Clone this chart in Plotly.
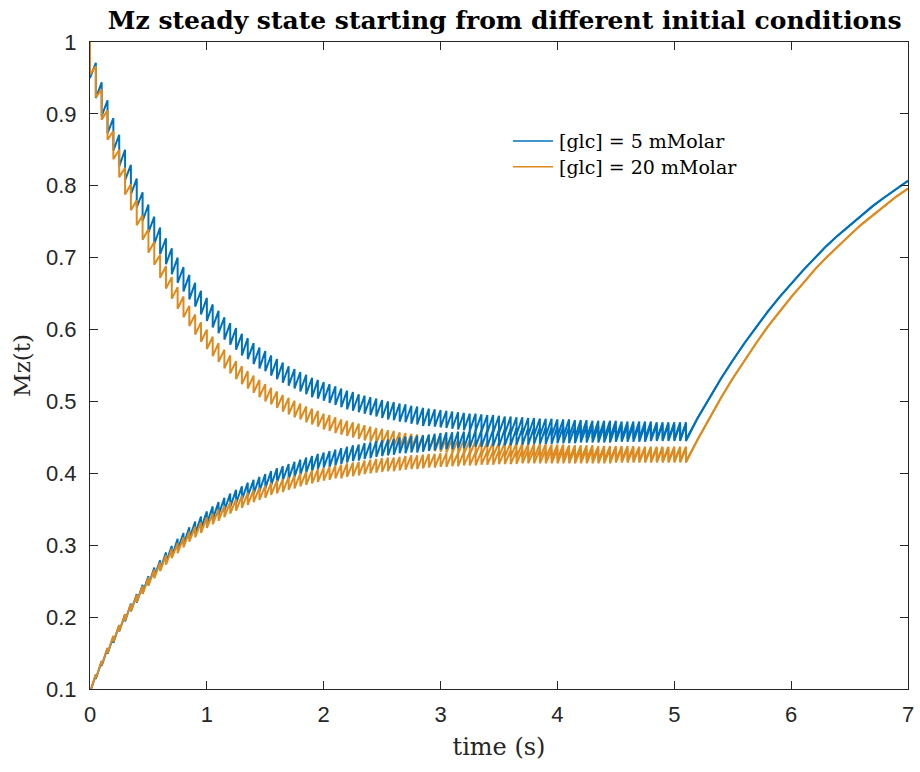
import plotly.graph_objects as go

# Pulse repetition time (s); pulse k is applied at k * TR
TR = 0.05

# Mz just before (peak) and just after (trough) each pulse, [glc] = 5 mM, start Mz = 1
BLUE_TOP_PEAK = [
    1.000, 0.971, 0.944, 0.919, 0.894, 0.871, 0.850, 0.829, 0.810, 0.791,
    0.774, 0.757, 0.742, 0.727, 0.713, 0.700, 0.687, 0.676, 0.665, 0.654,
    0.644, 0.635, 0.626, 0.617, 0.609, 0.602, 0.594, 0.588, 0.581, 0.575,
    0.570, 0.564, 0.559, 0.554, 0.549, 0.545, 0.541, 0.537, 0.533, 0.530,
    0.527, 0.524, 0.521, 0.518, 0.515, 0.513, 0.510, 0.508, 0.506, 0.504,
    0.502, 0.500, 0.499, 0.497, 0.496, 0.494, 0.493, 0.491, 0.490, 0.489,
    0.488, 0.487, 0.486, 0.485, 0.484, 0.483, 0.483, 0.482, 0.481, 0.481,
    0.480, 0.479, 0.479, 0.478, 0.478, 0.477, 0.477, 0.476, 0.476, 0.476,
    0.475, 0.475, 0.475, 0.474, 0.474, 0.474, 0.473, 0.473, 0.473, 0.473,
    0.473, 0.472, 0.472, 0.472, 0.472, 0.472, 0.472, 0.471, 0.471, 0.471,
    0.471, 0.471, 0.471,
]
BLUE_TOP_TROUGH = [
    0.950, 0.922, 0.897, 0.873, 0.849, 0.827, 0.808, 0.788, 0.770, 0.751,
    0.735, 0.719, 0.705, 0.691, 0.677, 0.665, 0.653, 0.642, 0.632, 0.621,
    0.612, 0.603, 0.595, 0.586, 0.579, 0.572, 0.564, 0.559, 0.552, 0.546,
    0.542, 0.536, 0.531, 0.526, 0.522, 0.518, 0.514, 0.510, 0.506, 0.504,
    0.501, 0.498, 0.495, 0.492, 0.489, 0.487, 0.485, 0.483, 0.481, 0.479,
    0.477, 0.475, 0.474, 0.472, 0.471, 0.469, 0.468, 0.466, 0.466, 0.465,
    0.464, 0.463, 0.462, 0.461, 0.460, 0.459, 0.459, 0.458, 0.457, 0.457,
    0.456, 0.455, 0.455, 0.454, 0.454, 0.453, 0.453, 0.452, 0.452, 0.452,
    0.451, 0.451, 0.451, 0.450, 0.450, 0.450, 0.449, 0.449, 0.449, 0.449,
    0.449, 0.448, 0.448, 0.448, 0.448, 0.448, 0.448, 0.447, 0.447, 0.447,
    0.447, 0.447, 0.447,
]

# [glc] = 5 mM, start Mz = 0.1
BLUE_BOTTOM_PEAK = [
    0.100, 0.120, 0.139, 0.157, 0.173, 0.189, 0.204, 0.219, 0.232, 0.245,
    0.257, 0.269, 0.279, 0.290, 0.299, 0.309, 0.317, 0.325, 0.333, 0.340,
    0.347, 0.354, 0.360, 0.366, 0.372, 0.377, 0.382, 0.387, 0.391, 0.395,
    0.399, 0.403, 0.407, 0.410, 0.413, 0.416, 0.419, 0.422, 0.424, 0.427,
    0.429, 0.431, 0.433, 0.435, 0.437, 0.439, 0.440, 0.442, 0.443, 0.445,
    0.446, 0.447, 0.448, 0.450, 0.451, 0.452, 0.452, 0.453, 0.454, 0.455,
    0.456, 0.457, 0.457, 0.458, 0.458, 0.459, 0.460, 0.460, 0.460, 0.461,
    0.461, 0.462, 0.462, 0.463, 0.463, 0.463, 0.464, 0.464, 0.464, 0.464,
    0.465, 0.465, 0.465, 0.465, 0.466, 0.466, 0.466, 0.466, 0.466, 0.466,
    0.467, 0.467, 0.467, 0.467, 0.467, 0.467, 0.468, 0.468, 0.468, 0.468,
    0.468, 0.468, 0.468,
]
BLUE_BOTTOM_TROUGH = [
    0.095, 0.114, 0.132, 0.149, 0.164, 0.180, 0.194, 0.208, 0.220, 0.233,
    0.244, 0.256, 0.265, 0.276, 0.284, 0.294, 0.301, 0.309, 0.316, 0.323,
    0.330, 0.336, 0.342, 0.348, 0.353, 0.358, 0.363, 0.368, 0.371, 0.375,
    0.379, 0.383, 0.387, 0.390, 0.392, 0.395, 0.398, 0.401, 0.403, 0.406,
    0.408, 0.409, 0.411, 0.413, 0.415, 0.417, 0.418, 0.420, 0.421, 0.423,
    0.424, 0.425, 0.426, 0.428, 0.428, 0.429, 0.429, 0.430, 0.431, 0.432,
    0.433, 0.434, 0.434, 0.435, 0.435, 0.436, 0.437, 0.437, 0.437, 0.438,
    0.438, 0.439, 0.439, 0.440, 0.440, 0.440, 0.441, 0.441, 0.441, 0.441,
    0.442, 0.442, 0.442, 0.442, 0.443, 0.443, 0.443, 0.443, 0.443, 0.443,
    0.444, 0.444, 0.444, 0.444, 0.444, 0.444, 0.445, 0.445, 0.445, 0.445,
    0.445, 0.445, 0.445,
]

# [glc] = 20 mM, start Mz = 1
ORANGE_TOP_PEAK = [
    1.000, 0.966, 0.934, 0.905, 0.876, 0.850, 0.825, 0.802, 0.780, 0.759,
    0.740, 0.722, 0.704, 0.688, 0.673, 0.659, 0.646, 0.633, 0.621, 0.610,
    0.600, 0.590, 0.581, 0.572, 0.564, 0.556, 0.549, 0.542, 0.536, 0.530,
    0.524, 0.519, 0.514, 0.509, 0.505, 0.501, 0.497, 0.493, 0.490, 0.487,
    0.483, 0.481, 0.478, 0.475, 0.473, 0.471, 0.469, 0.467, 0.465, 0.463,
    0.462, 0.460, 0.459, 0.457, 0.456, 0.455, 0.454, 0.453, 0.452, 0.451,
    0.450, 0.449, 0.448, 0.447, 0.447, 0.446, 0.446, 0.445, 0.444, 0.444,
    0.443, 0.443, 0.443, 0.442, 0.442, 0.441, 0.441, 0.441, 0.441, 0.440,
    0.440, 0.440, 0.439, 0.439, 0.439, 0.439, 0.439, 0.438, 0.438, 0.438,
    0.438, 0.438, 0.438, 0.438, 0.437, 0.437, 0.437, 0.437, 0.437, 0.437,
    0.437, 0.437, 0.437,
]
ORANGE_TOP_TROUGH = [
    0.955, 0.923, 0.892, 0.864, 0.837, 0.812, 0.788, 0.766, 0.745, 0.725,
    0.707, 0.690, 0.672, 0.657, 0.643, 0.629, 0.617, 0.605, 0.593, 0.583,
    0.573, 0.563, 0.555, 0.546, 0.539, 0.531, 0.524, 0.518, 0.512, 0.506,
    0.500, 0.496, 0.491, 0.486, 0.482, 0.478, 0.475, 0.471, 0.468, 0.465,
    0.461, 0.459, 0.456, 0.454, 0.452, 0.450, 0.448, 0.446, 0.444, 0.442,
    0.441, 0.439, 0.438, 0.436, 0.435, 0.435, 0.434, 0.433, 0.432, 0.431,
    0.430, 0.429, 0.428, 0.427, 0.427, 0.426, 0.426, 0.425, 0.424, 0.424,
    0.423, 0.423, 0.423, 0.422, 0.422, 0.421, 0.421, 0.421, 0.421, 0.420,
    0.420, 0.420, 0.419, 0.419, 0.419, 0.419, 0.419, 0.418, 0.418, 0.418,
    0.418, 0.418, 0.418, 0.418, 0.417, 0.417, 0.417, 0.417, 0.417, 0.417,
    0.417, 0.417, 0.417,
]

# [glc] = 20 mM, start Mz = 0.1
ORANGE_BOTTOM_PEAK = [
    0.100, 0.120, 0.139, 0.157, 0.174, 0.189, 0.204, 0.218, 0.231, 0.243,
    0.255, 0.266, 0.276, 0.286, 0.295, 0.303, 0.311, 0.319, 0.326, 0.332,
    0.339, 0.344, 0.350, 0.355, 0.360, 0.364, 0.369, 0.373, 0.377, 0.380,
    0.383, 0.387, 0.390, 0.392, 0.395, 0.397, 0.400, 0.402, 0.404, 0.406,
    0.408, 0.409, 0.411, 0.412, 0.414, 0.415, 0.416, 0.418, 0.419, 0.420,
    0.421, 0.422, 0.422, 0.423, 0.424, 0.425, 0.425, 0.426, 0.427, 0.427,
    0.428, 0.428, 0.429, 0.429, 0.430, 0.430, 0.430, 0.431, 0.431, 0.431,
    0.432, 0.432, 0.432, 0.432, 0.433, 0.433, 0.433, 0.433, 0.433, 0.433,
    0.434, 0.434, 0.434, 0.434, 0.434, 0.434, 0.434, 0.434, 0.434, 0.434,
    0.435, 0.435, 0.435, 0.435, 0.435, 0.435, 0.435, 0.435, 0.435, 0.435,
    0.435, 0.435, 0.435,
]
ORANGE_BOTTOM_TROUGH = [
    0.096, 0.115, 0.133, 0.150, 0.166, 0.180, 0.195, 0.208, 0.221, 0.232,
    0.244, 0.254, 0.264, 0.273, 0.282, 0.289, 0.297, 0.305, 0.311, 0.317,
    0.324, 0.329, 0.334, 0.339, 0.344, 0.348, 0.352, 0.356, 0.360, 0.363,
    0.366, 0.370, 0.372, 0.374, 0.377, 0.379, 0.382, 0.384, 0.386, 0.388,
    0.390, 0.391, 0.393, 0.393, 0.395, 0.396, 0.397, 0.399, 0.400, 0.401,
    0.402, 0.403, 0.403, 0.404, 0.405, 0.406, 0.406, 0.407, 0.408, 0.408,
    0.409, 0.409, 0.410, 0.410, 0.411, 0.411, 0.411, 0.412, 0.412, 0.412,
    0.413, 0.413, 0.413, 0.413, 0.414, 0.414, 0.414, 0.414, 0.414, 0.414,
    0.414, 0.414, 0.414, 0.414, 0.414, 0.414, 0.414, 0.414, 0.414, 0.414,
    0.415, 0.415, 0.415, 0.415, 0.415, 0.415, 0.415, 0.415, 0.415, 0.415,
    0.415, 0.415, 0.415,
]

# Free T1 recovery after the pulse train stops
RECOVERY_T = [5.2, 5.3, 5.4, 5.5, 5.6, 5.7, 5.8, 5.9, 6.0, 6.1,
              6.2, 6.3, 6.4, 6.5, 6.6, 6.7, 6.8, 6.9, 7.0]
BLUE_RECOVERY = [0.477, 0.505, 0.532, 0.557, 0.581, 0.603, 0.625, 0.645, 0.664, 0.682,
                 0.699, 0.716, 0.731, 0.745, 0.759, 0.772, 0.784, 0.796, 0.807]
ORANGE_RECOVERY = [0.447, 0.477, 0.505, 0.532, 0.557, 0.581, 0.604, 0.625, 0.645, 0.664,
                   0.683, 0.700, 0.716, 0.731, 0.746, 0.759, 0.772, 0.785, 0.796]

X_TICKS = [0, 1, 2, 3, 4, 5, 6, 7]
Y_TICKS = [0.1, 0.2, 0.3, 0.4, 0.5, 0.6, 0.7, 0.8, 0.9, 1.0]
Y_TICK_TEXT = ["0.1", "0.2", "0.3", "0.4", "0.5", "0.6", "0.7", "0.8", "0.9", "1"]

SERIES_NAMES = ["[glc] = 5 mMolar", "[glc] = 20 mMolar"]
BLUE = "#0072BD"
ORANGE = "#DE8A1E"
INK = "#262626"


def pulse_train(peaks, troughs, rec_t, rec_y):
    """Instant drop at every pulse, recovery until the next one, then free recovery."""
    xs, ys = [], []
    for k, (p, q) in enumerate(zip(peaks, troughs)):
        t = round(k * TR, 4)
        xs += [t, t]
        ys += [p, q]
    xs += rec_t
    ys += rec_y
    return xs, ys


fig = go.Figure()
curves = [
    (BLUE_TOP_PEAK, BLUE_TOP_TROUGH, BLUE_RECOVERY, BLUE, SERIES_NAMES[0]),
    (ORANGE_TOP_PEAK, ORANGE_TOP_TROUGH, ORANGE_RECOVERY, ORANGE, SERIES_NAMES[1]),
    (BLUE_BOTTOM_PEAK, BLUE_BOTTOM_TROUGH, BLUE_RECOVERY, BLUE, SERIES_NAMES[0]),
    (ORANGE_BOTTOM_PEAK, ORANGE_BOTTOM_TROUGH, ORANGE_RECOVERY, ORANGE, SERIES_NAMES[1]),
]
for peaks, troughs, rec, color, name in curves:
    x, y = pulse_train(peaks, troughs, RECOVERY_T, rec)
    fig.add_trace(go.Scatter(
        x=x, y=y, mode="lines", name=name, showlegend=False,
        line=dict(color=color, width=2),
    ))

# Legend drawn in the upper middle of the axes: a 40 px line sample, then the label
legend_rows = [(SERIES_NAMES[0], BLUE, 0.847), (SERIES_NAMES[1], ORANGE, 0.807)]
for label, color, ypos in legend_rows:
    fig.add_shape(type="line", xref="paper", yref="paper",
                  x0=0.517, x1=0.566, y0=ypos, y1=ypos,
                  line=dict(color=color, width=1.5))
    fig.add_annotation(xref="paper", yref="paper", x=0.571, y=ypos,
                       xanchor="left", yanchor="middle", showarrow=False,
                       text=label,
                       font=dict(family="DejaVu Serif", size=19, color="black"))

axis_common = dict(
    showline=True, linecolor=INK, linewidth=1, mirror="ticks",
    ticks="inside", ticklen=8, tickwidth=1, tickcolor=INK,
    showgrid=False, zeroline=False, automargin=False,
    tickfont=dict(family="Liberation Sans", size=22, color=INK),
)

fig.update_layout(
    width=920, height=772,
    margin=dict(l=90, r=12, t=42, b=83),
    paper_bgcolor="white", plot_bgcolor="white",
    showlegend=False,
    title=dict(
        text="<b>Mz steady state starting from different initial conditions</b>",
        x=0.507, xref="paper", xanchor="center",
        y=0.974, yref="container", yanchor="middle",
        font=dict(family="DejaVu Serif", size=25, color="black"),
    ),
    xaxis=dict(
        range=[0, 7], tickvals=X_TICKS, ticklabelstandoff=6,
        title=dict(text="time (s)", font=dict(family="DejaVu Serif", size=24, color=INK), standoff=11),
        **axis_common,
    ),
    yaxis=dict(
        range=[0.1, 1], tickvals=Y_TICKS, ticktext=Y_TICK_TEXT, ticklabelstandoff=8,
        title=dict(text="Mz(t)", font=dict(family="DejaVu Serif", size=23, color=INK), standoff=8),
        **axis_common,
    ),
)

fig.write_html("out.html")
